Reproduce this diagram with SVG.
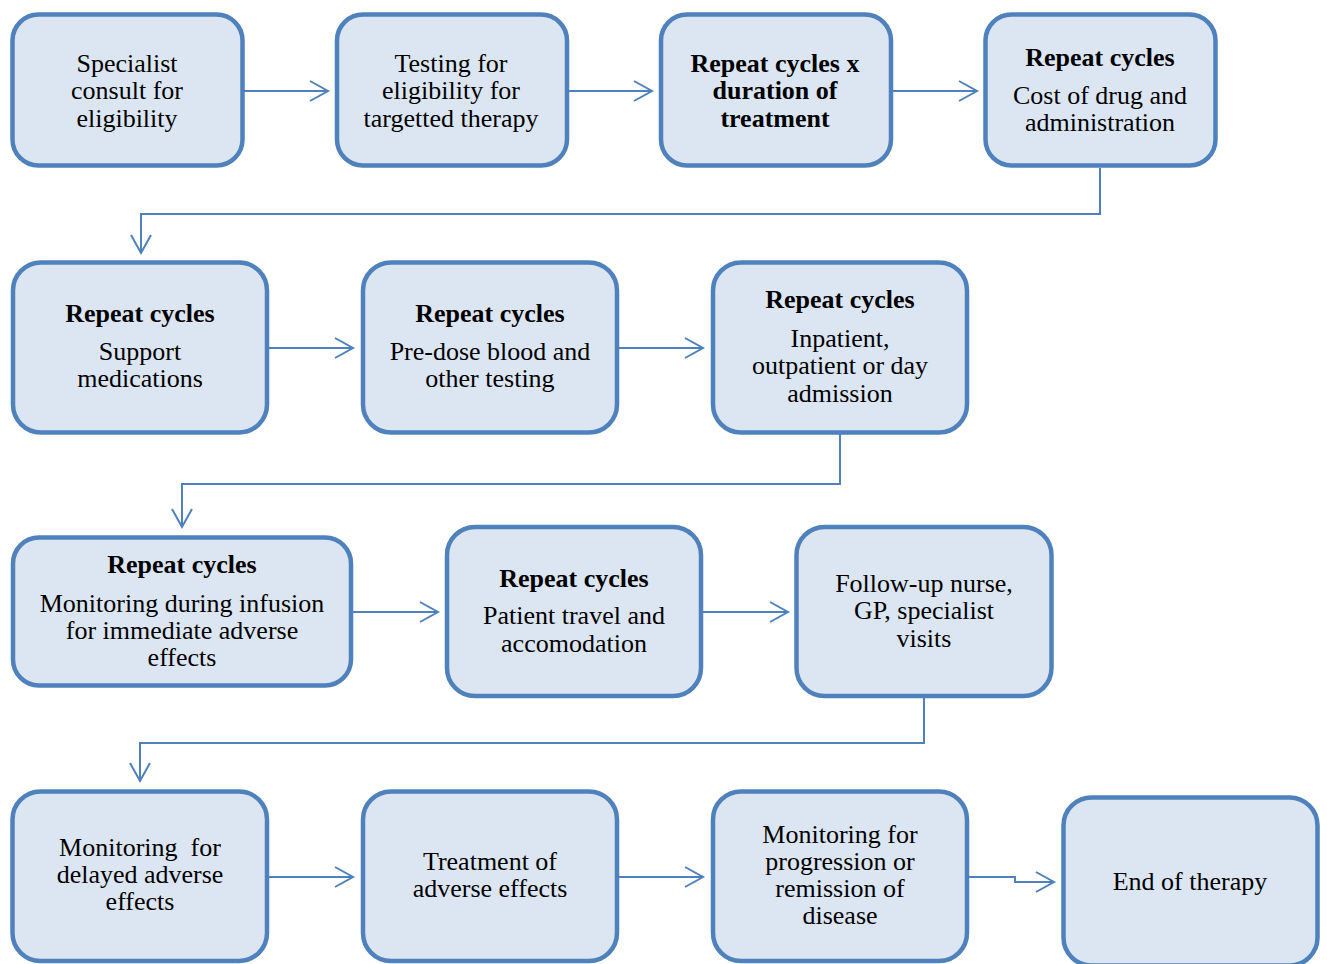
<svg xmlns="http://www.w3.org/2000/svg" width="1327" height="964" viewBox="0 0 1327 964">
  <style>
    .box { fill: #dce6f2; stroke: #4f81bd; stroke-width: 4.5; }
    .conn { fill: none; stroke: #4f81bd; stroke-width: 2; }
    text { font-family: "Liberation Serif", "Times New Roman", serif; font-size: 26px; fill: #000; text-anchor: middle; }
    .b { font-weight: bold; }
  </style>
  <defs>
    <marker id="arrow" markerUnits="userSpaceOnUse" markerWidth="24" markerHeight="24" viewBox="-20 -12 22 24" refX="0" refY="0" orient="auto" overflow="visible">
      <path d="M -18 -10 L 0 0 L -18 10" fill="none" stroke="#4f81bd" stroke-width="2"/>
    </marker>
  </defs>
  <rect width="1327" height="964" fill="#ffffff"/>

  <!-- connectors -->
  <g id="connectors" class="conn" marker-end="url(#arrow)">
    <path d="M 243 91 H 328"/>
    <path d="M 567 91 H 652"/>
    <path d="M 891 91 H 977"/>
    <path d="M 1100 168 V 214 H 141 V 253"/>
    <path d="M 268 348 H 353"/>
    <path d="M 618 348 H 703"/>
    <path d="M 840 433 V 484 H 182 V 527"/>
    <path d="M 352 612 H 438"/>
    <path d="M 703 612 H 788"/>
    <path d="M 924 697 V 743 H 140 V 781"/>
    <path d="M 268 877 H 353"/>
    <path d="M 618 877 H 703"/>
    <path d="M 968 877 H 1015 V 882 H 1054"/>
  </g>

  <!-- row 1 -->
  <g id="n1">
    <rect class="box" x="12.5" y="14.5" width="230" height="151" rx="26"/>
    <text x="127" y="72">Specialist</text>
    <text x="127" y="99">consult for</text>
    <text x="127" y="127">eligibility</text>
  </g>
  <g id="n2">
    <rect class="box" x="337" y="14.5" width="230" height="151" rx="26"/>
    <text x="451" y="72">Testing for</text>
    <text x="451" y="99">eligibility for</text>
    <text x="451" y="127">targetted therapy</text>
  </g>
  <g id="n3">
    <rect class="box" x="661" y="14.5" width="230" height="151" rx="26"/>
    <text class="b" x="775" y="72">Repeat cycles x</text>
    <text class="b" x="775" y="99">duration of</text>
    <text class="b" x="775" y="127">treatment</text>
  </g>
  <g id="n4">
    <rect class="box" x="985.5" y="14.5" width="230" height="151" rx="26"/>
    <text class="b" x="1100" y="66">Repeat cycles</text>
    <text x="1100" y="104">Cost of drug and</text>
    <text x="1100" y="131">administration</text>
  </g>

  <!-- row 2 -->
  <g id="n5">
    <rect class="box" x="13" y="262.5" width="254" height="170" rx="28"/>
    <text class="b" x="140" y="322">Repeat cycles</text>
    <text x="140" y="360">Support</text>
    <text x="140" y="387">medications</text>
  </g>
  <g id="n6">
    <rect class="box" x="363" y="262.5" width="254" height="170" rx="28"/>
    <text class="b" x="490" y="322">Repeat cycles</text>
    <text x="490" y="360">Pre-dose blood and</text>
    <text x="490" y="387">other testing</text>
  </g>
  <g id="n7">
    <rect class="box" x="713" y="262.5" width="254" height="170" rx="28"/>
    <text class="b" x="840" y="308">Repeat cycles</text>
    <text x="840" y="347">Inpatient,</text>
    <text x="840" y="374">outpatient or day</text>
    <text x="840" y="402">admission</text>
  </g>

  <!-- row 3 -->
  <g id="n8">
    <rect class="box" x="13" y="537.5" width="338" height="148" rx="26"/>
    <text class="b" x="182" y="573">Repeat cycles</text>
    <text x="182" y="612">Monitoring during infusion</text>
    <text x="182" y="639">for immediate adverse</text>
    <text x="182" y="666">effects</text>
  </g>
  <g id="n9">
    <rect class="box" x="447" y="527" width="254" height="169" rx="28"/>
    <text class="b" x="574" y="587">Repeat cycles</text>
    <text x="574" y="624">Patient travel and</text>
    <text x="574" y="652">accomodation</text>
  </g>
  <g id="n10">
    <rect class="box" x="796.5" y="527" width="255" height="169" rx="28"/>
    <text x="924" y="592">Follow-up nurse,</text>
    <text x="924" y="619">GP, specialist</text>
    <text x="924" y="647">visits</text>
  </g>

  <!-- row 4 -->
  <g id="n11">
    <rect class="box" x="12.5" y="791.5" width="254.5" height="169.5" rx="28"/>
    <text x="140" y="856" xml:space="preserve">Monitoring  for</text>
    <text x="140" y="883">delayed adverse</text>
    <text x="140" y="910">effects</text>
  </g>
  <g id="n12">
    <rect class="box" x="363" y="791.5" width="254" height="169.5" rx="28"/>
    <text x="490" y="870">Treatment of</text>
    <text x="490" y="897">adverse effects</text>
  </g>
  <g id="n13">
    <rect class="box" x="713" y="791.5" width="254" height="169.5" rx="28"/>
    <text x="840" y="843">Monitoring for</text>
    <text x="840" y="870">progression or</text>
    <text x="840" y="897">remission of</text>
    <text x="840" y="924">disease</text>
  </g>
  <g id="n14">
    <rect class="box" x="1063.5" y="797.5" width="254" height="168" rx="28"/>
    <text x="1190" y="890">End of therapy</text>
  </g>
</svg>
